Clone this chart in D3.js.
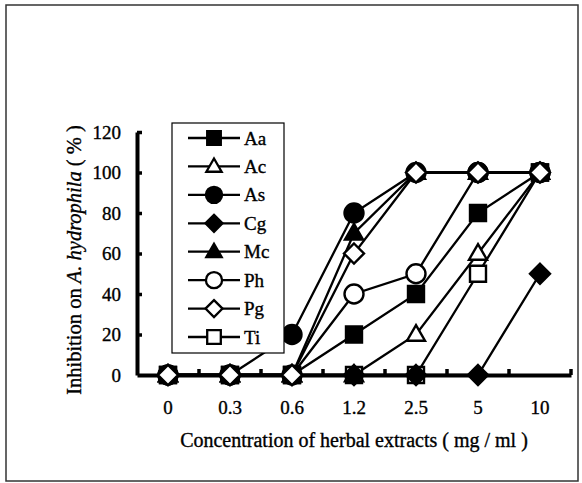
<!DOCTYPE html>
<html>
<head>
<meta charset="utf-8">
<script src="https://cdn.jsdelivr.net/npm/d3@7"></script>
<style>
  html, body { margin: 0; padding: 0; background: #fff; }
  svg { display: block; }
</style>
</head>
<body>
<svg id="chart" width="582" height="483"></svg>
<script>
// ---- Data ----
const categories = ["0", "0.3", "0.6", "1.2", "2.5", "5", "10"];
const seriesNames = ["Aa", "Ac", "As", "Cg", "Mc", "Ph", "Pg", "Ti"];
const Aa = [0, 0, 0, 20, 40, 80, 100];
const Ac = [0, 0, 0, 0, 20, 60, 100];
const As = [0, 0, 20, 80, 100, 100, 100];
const Cg = [0, 0, 0, 0, 0, 0, 50];
const Mc = [0, 0, 0, 70, 100, 100, 100];
const Ph = [0, 0, 0, 40, 50, 100, 100];
const Pg = [0, 0, 0, 60, 100, 100, 100];
const Ti = [0, 0, 0, 0, 0, 50, 100];
const yTicks = [0, 20, 40, 60, 80, 100, 120];
const xTitle = "Concentration of herbal extracts ( mg / ml )";
const yTitleParts = [["Inhibition on ", "normal"], ["A. hydrophila", "italic"], [" ( % )", "normal"]];

const FONT = "'Liberation Serif', 'Times New Roman', Tinos, 'DejaVu Serif', serif";

// ---- Styles (marker shape + fill) ----
const valuesByName = { Aa, Ac, As, Cg, Mc, Ph, Pg, Ti };
const styleByName = {
  Aa: { shape: "square", fill: "#000" },
  Ac: { shape: "triangle", fill: "#fff" },
  As: { shape: "circle", fill: "#000" },
  Cg: { shape: "diamond", fill: "#000" },
  Mc: { shape: "triangle", fill: "#000" },
  Ph: { shape: "circle", fill: "#fff" },
  Pg: { shape: "diamond", fill: "#fff" },
  Ti: { shape: "square", fill: "#fff" }
};
const drawOrder = ["Ti", "Ac", "Ph", "As", "Cg", "Mc", "Aa", "Pg"];

function markerPath(shape, k) {
  const p = d3.path();
  if (shape === "square") {
    const h = 8 * k; p.rect(-h, -h, 2 * h, 2 * h);
  } else if (shape === "circle") {
    const r = 9.5 * k; p.moveTo(r, 0); p.arc(0, 0, r, 0, 2 * Math.PI); p.closePath();
  } else if (shape === "diamond") {
    const h = 10 * k; p.moveTo(0, -h); p.lineTo(h, 0); p.lineTo(0, h); p.lineTo(-h, 0); p.closePath();
  } else if (shape === "triangle") {
    const s = 18 * k, hgt = s * Math.sqrt(3) / 2;
    p.moveTo(0, -hgt * 0.6); p.lineTo(s / 2, hgt * 0.4); p.lineTo(-s / 2, hgt * 0.4); p.closePath();
  }
  return p.toString();
}

function styleText(sel, size) {
  sel.style("font-family", FONT).style("font-size", size + "px")
    .attr("fill", "#000").attr("stroke", "#000").attr("stroke-width", 0.35);
}

// ---- Layout ----
const svg = d3.select("#chart").style("font-family", FONT);
const plotLeft = 137, plotRight = 571, plotBottom = 375, plotTop = 132;

const x = d3.scaleBand().domain(categories).range([plotLeft, plotRight]).padding(0);
const y = d3.scaleLinear().domain([0, 120]).range([plotBottom, plotTop]);
const cx = c => x(c) + x.bandwidth() / 2;

// outer frame
svg.append("rect")
  .attr("x", 6).attr("y", 5).attr("width", 572).attr("height", 476)
  .attr("fill", "none").attr("stroke", "#333").attr("stroke-width", 1.5);

// ---- Y axis ----
const yAxis = d3.axisLeft(y).tickValues(yTicks).tickSizeInner(-5).tickSizeOuter(0).tickPadding(16);
const gy = svg.append("g").attr("transform", `translate(${plotLeft},0)`).call(yAxis)
  .attr("font-family", null).attr("font-size", null);
gy.select(".domain").attr("stroke", "#000").attr("stroke-width", 4);
gy.selectAll(".tick line").attr("stroke", "#000").attr("stroke-width", 3.5);
styleText(gy.selectAll(".tick text"), 19);
gy.selectAll(".tick").filter(d => d === 0).select("line").remove();

// ---- X axis ----
const xAxis = d3.axisBottom(x).tickSizeInner(0).tickSizeOuter(0).tickPadding(25.5);
const gx = svg.append("g").attr("transform", `translate(0,${plotBottom})`).call(xAxis)
  .attr("font-family", null).attr("font-size", null);
gx.select(".domain").attr("stroke", "#000").attr("stroke-width", 4);
styleText(gx.selectAll(".tick text"), 19);
// boundary ticks (pointing up)
gx.selectAll(".bt").data(categories).enter().append("line")
  .attr("class", "bt")
  .attr("x1", c => x(c) + x.bandwidth()).attr("x2", c => x(c) + x.bandwidth())
  .attr("y1", 0).attr("y2", -6)
  .attr("stroke", "#000").attr("stroke-width", 3.5);

// ---- Titles ----
styleText(svg.append("text")
  .attr("x", (plotLeft + plotRight) / 2).attr("y", 447)
  .attr("text-anchor", "middle")
  .text(xTitle), 20);

const yt = svg.append("text")
  .attr("transform", "translate(81,260) rotate(-90)")
  .attr("text-anchor", "middle");
styleText(yt, 20.5);
yt.selectAll("tspan").data(yTitleParts).enter().append("tspan")
  .style("font-style", d => d[1]).text(d => d[0]);

// ---- Lines ----
const line = d3.line().x((v, i) => cx(categories[i])).y(v => y(v));
svg.append("g").selectAll("path").data(seriesNames).enter().append("path")
  .attr("d", n => line(valuesByName[n]))
  .attr("fill", "none").attr("stroke", "#000").attr("stroke-width", 2.3);

// ---- Markers ----
const gm = svg.append("g");
drawOrder.forEach(n => {
  const st = styleByName[n];
  gm.selectAll(null).data(valuesByName[n]).enter().append("path")
    .attr("transform", (v, i) => `translate(${cx(categories[i])},${y(v)})`)
    .attr("d", markerPath(st.shape, 1))
    .attr("fill", st.fill).attr("stroke", "#000").attr("stroke-width", 2.4);
});

// ---- Legend ----
const lg = svg.append("g");
lg.append("rect").attr("x", 172).attr("y", 123).attr("width", 112).attr("height", 230)
  .attr("fill", "#fff").attr("stroke", "#000").attr("stroke-width", 1.2);
const legendY = d3.scalePoint().domain(seriesNames).range([138, 337]);
const items = lg.selectAll(".li").data(seriesNames).enter().append("g")
  .attr("class", "li").attr("transform", n => `translate(0,${legendY(n)})`);
items.append("line").attr("x1", 188).attr("x2", 240).attr("y1", 0).attr("y2", 0)
  .attr("stroke", "#000").attr("stroke-width", 2.3);
items.append("path").attr("transform", "translate(214,0)")
  .attr("d", n => markerPath(styleByName[n].shape, 0.85))
  .attr("fill", n => styleByName[n].fill).attr("stroke", "#000").attr("stroke-width", 2.3);
styleText(items.append("text").attr("x", 244).attr("y", 6.5).text(n => n), 19);
</script>
</body>
</html>
